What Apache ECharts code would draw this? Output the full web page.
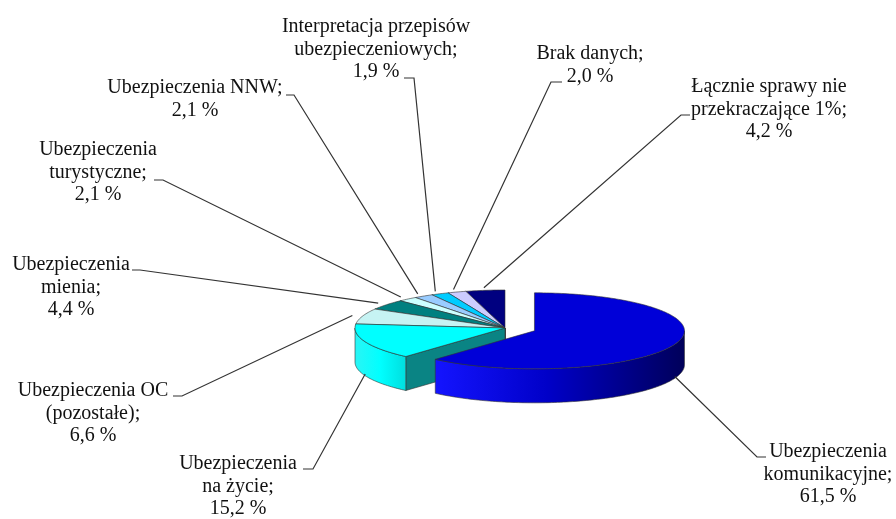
<!DOCTYPE html>
<html><head><meta charset="utf-8">
<script src="https://cdn.jsdelivr.net/npm/echarts@6/dist/echarts.min.js"></script>
<style>html,body{margin:0;padding:0;background:#fff}#c{width:896px;height:519px}</style>
</head><body><div id="c"></div>
<script>
// ---- data ----
const categories = [
  'Ubezpieczenia\nkomunikacyjne;',
  'Ubezpieczenia\nna życie;',
  'Ubezpieczenia OC\n(pozostałe);',
  'Ubezpieczenia\nmienia;',
  'Ubezpieczenia\nturystyczne;',
  'Ubezpieczenia NNW;',
  'Interpretacja przepisów\nubezpieczeniowych;',
  'Brak danych;',
  'Łącznie sprawy nie\nprzekraczające 1%;'
];
const values = [61.5, 15.2, 6.6, 4.4, 2.1, 2.1, 1.9, 2.0, 4.2];
const percentLabels = values.map(v => v.toFixed(1).replace('.', ',') + ' %');

// ---- styles / layout ----
const topColors  = ['#0000d8', '#00ffff', '#c6f3f3', '#008080', '#ccffff', '#99ccff', '#00ccff', '#ccccff', '#000080'];
const cutColors  = ['#00007a', '#0a8484', '#6f9999', '#004848', '#7aa0a0', '#5a7ea0', '#00799a', '#7a7aa0', '#00004a'];
const sideFills  = [
  {type:'linear',x:0,y:0,x2:1,y2:0,colorStops:[{offset:0,color:'#1414ff'},{offset:0.45,color:'#0000c8'},{offset:1,color:'#00005a'}]},
  {type:'linear',x:0,y:0,x2:1,y2:0,colorStops:[{offset:0,color:'#2af5f5'},{offset:0.5,color:'#00ffff'},{offset:1,color:'#00dede'}]},
  '#a8d8d8','#006868','#aadede','#80aadd','#00aadd','#aaaadd','#000066'
];
const explode = [0.21, 0, 0, 0, 0, 0, 0, 0, 0];
// [centerX, firstLineCenterY, tickStartX, tickEndX, tickY]
const labelLayout = [
  [828, 452, 766, 757, 457],
  [238, 464, 303, 313, 469],
  [93, 391, 173, 182, 396],
  [71, 265, 132, 140, 270],
  [98, 150, 154, 163, 180],
  [195, 88, 286, 294, 95],
  [376, 27, 404, 414, 78],
  [590, 54, 562, 551, 82],
  [769, 87, 690, 681, 115]
];
const G = {cx: 505, cy: 328, rx: 150, ry: 38, depth: 34};

const total = values.reduce((a, b) => a + b, 0);
const starts = []; let acc = 0; values.forEach(v => { starts.push(acc); acc += v; });
const ang = p => p / total * Math.PI * 2;
function rim(cx, cy, t, r) { return [cx + G.rx * r * Math.sin(t), cy - G.ry * r * Math.cos(t)]; }
function arc(cx, cy, t0, t1, dy) {
  const n = Math.max(2, Math.ceil((t1 - t0) / 0.02)); const pts = [];
  for (let k = 0; k <= n; k++) { const t = t0 + (t1 - t0) * k / n; const p = rim(cx, cy, t, 1); pts.push([p[0], p[1] + dy]); }
  return pts;
}
function frontness(i) {
  const t0 = ang(starts[i]), t1 = ang(starts[i] + values[i]);
  let f = (t0 <= Math.PI && t1 >= Math.PI) ? 1 : Math.max(-Math.cos(t0), -Math.cos(t1));
  return f + explode[i];
}
const order = values.map((v, i) => i).sort((a, b) => frontness(a) - frontness(b));
const rank = []; order.forEach((idx, r) => rank[idx] = r);

const EDGE = '#333333';
function poly(points, fill, z2) {
  return {type: 'polygon', z2: z2, shape: {points: points}, style: {fill: fill, stroke: EDGE, lineWidth: 0.6, lineJoin: 'round'}};
}

function renderItem(params, api) {
  const i = params.dataIndex;
  const v = api.value(0);
  const t0 = ang(starts[i]), t1 = ang(starts[i] + v);
  const mid = (t0 + t1) / 2;
  const e = explode[i];
  const cx = G.cx + e * G.rx * Math.sin(mid), cy = G.cy - e * G.ry * Math.cos(mid);
  const D = G.depth;
  const base = rank[i] * 4;
  const ch = [];
  if (-Math.sin(t0) > 1e-6) {
    const p = rim(cx, cy, t0, 1);
    ch.push(poly([[cx, cy], p, [p[0], p[1] + D], [cx, cy + D]], cutColors[i], base));
  }
  if (Math.sin(t1) > 1e-6) {
    const p = rim(cx, cy, t1, 1);
    ch.push(poly([[cx, cy], p, [p[0], p[1] + D], [cx, cy + D]], cutColors[i], base));
  }
  const w0 = Math.max(t0, Math.PI / 2), w1 = Math.min(t1, Math.PI * 1.5);
  if (w1 > w0) {
    const top = arc(cx, cy, w0, w1, 0), bot = arc(cx, cy, w0, w1, D).reverse();
    ch.push(poly(top.concat(bot), sideFills[i], base + 1));
  }
  ch.push(poly([[cx, cy]].concat(arc(cx, cy, t0, t1, 0)), topColors[i], base + 2));

  // leader line + label
  const L = labelLayout[i];
  let anchor;
  if (-Math.cos(mid) > 0.2) { const p = rim(cx, cy, mid, 1); anchor = [p[0], p[1] + D * 0.95]; }
  else { anchor = rim(cx, cy, mid, 1.07); }
  ch.push({type: 'polyline', z2: 200, shape: {points: [[L[2], L[4]], [L[3], L[4]], anchor]},
           style: {stroke: '#333', lineWidth: 1.2, fill: null}});
  ch.push({type: 'text', z2: 201, style: {
    text: categories[i] + '\n' + percentLabels[i], x: L[0], y: L[1] - 11.25,
    align: 'center', verticalAlign: 'top', fontSize: 20, fontFamily: '"Liberation Serif", "Times New Roman", serif',
    lineHeight: 22.5, fill: '#111'
  }});
  return {type: 'group', children: ch};
}

const chart = echarts.init(document.getElementById('c'));
chart.setOption({
  animation: false,
  backgroundColor: '#ffffff',
  series: [{
    type: 'custom',
    coordinateSystem: 'none',
    renderItem: renderItem,
    silent: true,
    data: values.map(v => [v])
  }]
});
</script>
</body></html>
